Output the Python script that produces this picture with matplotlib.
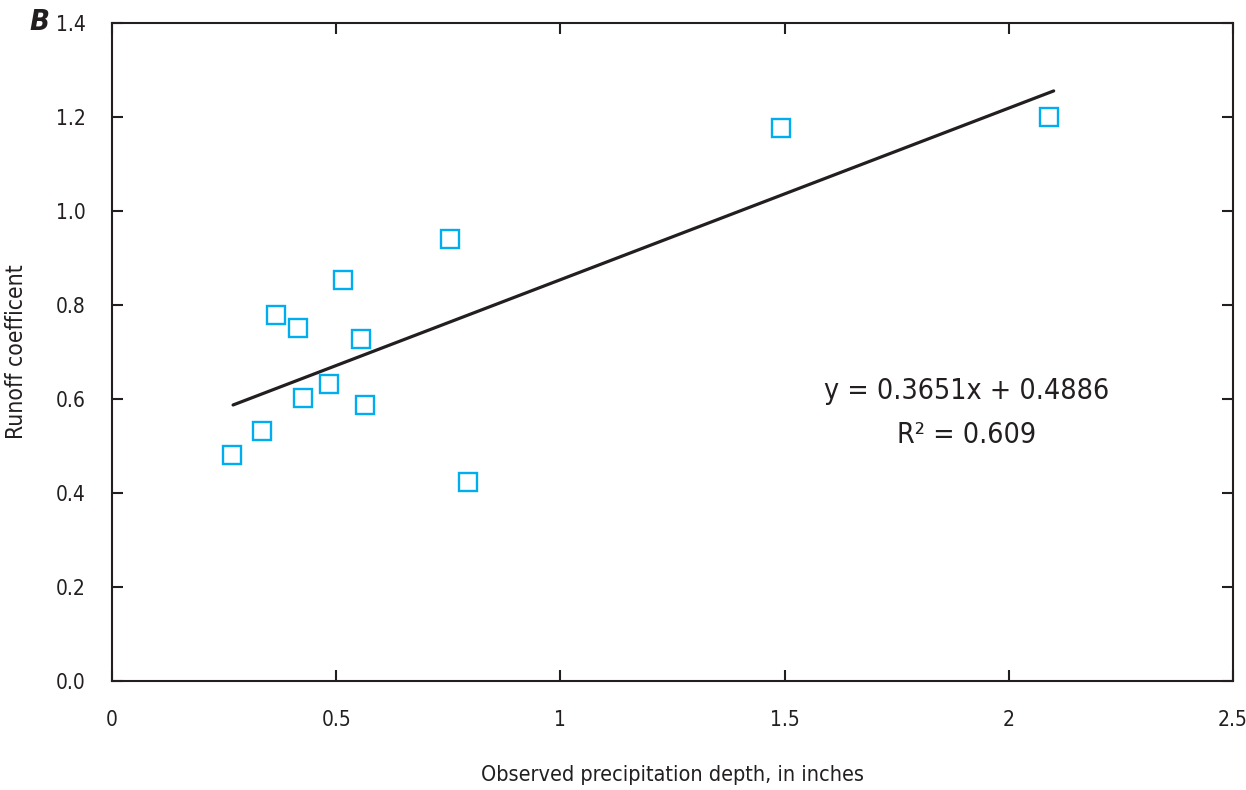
import numpy as np
import matplotlib
matplotlib.use('Agg')
from matplotlib import pyplot as plt
from matplotlib import font_manager

precip_in = [0.268, 0.335, 0.366, 0.415, 0.426, 0.484, 0.515, 0.555, 0.564, 0.754, 0.794, 1.492, 2.090]
runoff_coef = [0.481, 0.532, 0.779, 0.751, 0.602, 0.632, 0.853, 0.728, 0.587, 0.940, 0.423, 1.177, 1.200]

slope = 0.3651
intercept = 0.4886
r2 = 0.609
fit_x = [0.27, 2.1]

x_ticks = [0, 0.5, 1, 1.5, 2, 2.5]
x_tick_labels = ['0', '0.5', '1', '1.5', '2', '2.5']
y_ticks = [0.0, 0.2, 0.4, 0.6, 0.8, 1.0, 1.2, 1.4]

# look for a narrow face, the reference uses a condensed sans
narrow = [f for f in font_manager.fontManager.ttflist
          if 'condensed' in str(f.stretch) or 'Narrow' in f.name or 'Condensed' in f.name]
if any(f.name == 'Liberation Sans Narrow' for f in narrow):
    plt.rcParams['font.family'] = ['Liberation Sans Narrow', 'DejaVu Sans']
elif any(f.name == 'DejaVu Sans' for f in narrow):
    plt.rcParams['font.family'] = ['DejaVu Sans']
    plt.rcParams['font.stretch'] = 'condensed'
elif narrow:
    plt.rcParams['font.family'] = [narrow[0].name, 'DejaVu Sans']
    plt.rcParams['font.stretch'] = narrow[0].stretch
else:
    plt.rcParams['font.family'] = ['DejaVu Sans']

ink = '#231f20'
cyan = '#00aeef'

fig = plt.figure(figsize=(12.46, 7.9), dpi=100)
ax = fig.add_axes([0.0899, 0.138, 0.8997, 0.833])

fit_y = [slope * v + intercept for v in fit_x]
ax.plot(fit_x, fit_y, color=ink, lw=2.3, solid_capstyle='round', zorder=2)
ax.plot(precip_in, runoff_coef, ls='none', marker='s', ms=13, mfc='none',
        mec=cyan, mew=1.7, zorder=3)

ax.set_xlim(0, 2.5)
ax.set_ylim(0, 1.4)
ax.set_xticks(x_ticks)
ax.set_xticklabels(x_tick_labels)
ax.set_yticks(y_ticks)
ax.set_yticklabels([f'{v:.1f}' for v in y_ticks])
ax.tick_params(direction='in', length=8, width=1.5, color=ink, labelsize=15,
               labelcolor=ink, top=True, right=True)
ax.tick_params(axis='x', pad=21)
ax.tick_params(axis='y', pad=19)
for s in ax.spines.values():
    s.set_linewidth(1.5)
    s.set_color(ink)

ax.set_xlabel('Observed precipitation depth, in inches', fontsize=15.5, color=ink, labelpad=25)
ax.set_ylabel('Runoff coefficent', fontsize=16.5, color=ink, labelpad=20)

ax.text(0.762, 0.407, f'y = {slope}x + {intercept}\nR² = {r2}', transform=ax.transAxes,
        ha='center', va='center', fontsize=20.5, color=ink, linespacing=1.75)

fig.text(0.032, 0.972, 'B', fontsize=21, fontweight='bold', fontstyle='italic',
         color=ink, ha='center', va='center', family='DejaVu Sans')

fig.savefig('out.png', dpi=100)
